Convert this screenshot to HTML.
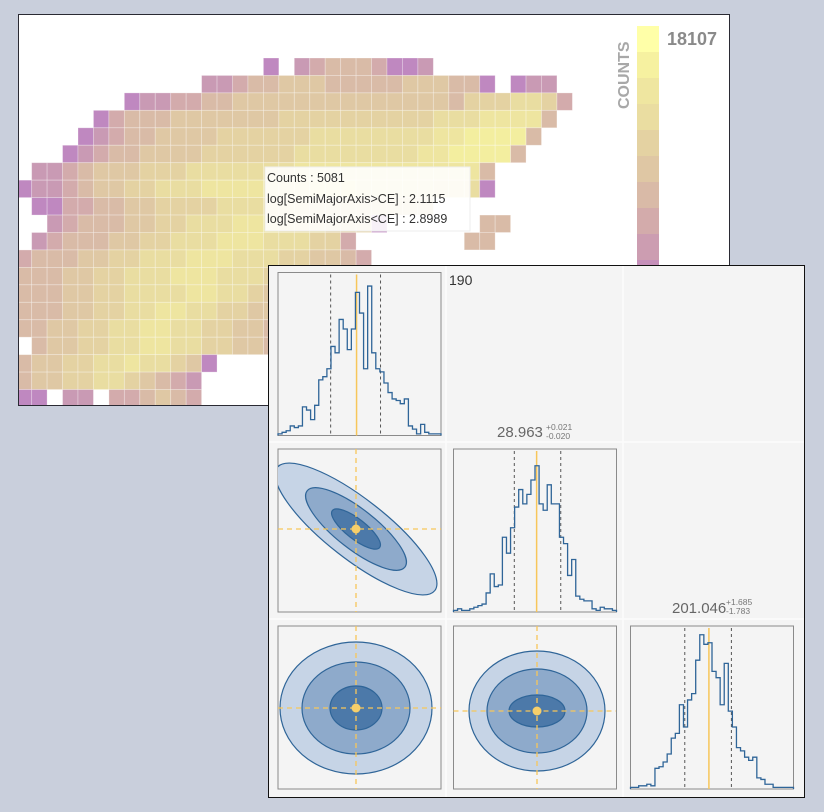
<!DOCTYPE html>
<html><head><meta charset="utf-8">
<style>
html,body{margin:0;padding:0;background:#c9cfdc;}
body{width:824px;height:812px;position:relative;overflow:hidden;font-family:"Liberation Sans",sans-serif;}
svg{position:absolute;left:0;top:0;}
</style></head>
<body>
<svg id="root" width="824" height="812" viewBox="0 0 824 812" xmlns="http://www.w3.org/2000/svg">
  <defs>
    <clipPath id="hmclip"><rect x="19" y="15" width="710" height="390"/></clipPath>
    <clipPath id="p21"><rect x="278" y="449" width="163" height="163"/></clipPath>
    <clipPath id="p31"><rect x="278" y="626" width="163" height="163"/></clipPath>
    <clipPath id="p32"><rect x="453" y="626" width="163" height="163"/></clipPath>
  </defs>
  <g>
    <rect x="18.5" y="14.5" width="711" height="391" fill="#ffffff" stroke="#2a2a33" stroke-width="1"/>
    <g id="cells" clip-path="url(#hmclip)"></g>
    <g id="cbar"></g>
    <text x="667" y="45" font-size="18" font-weight="bold" fill="#8a8a8a">18107</text>
    <text transform="translate(629,109) rotate(-90)" font-size="16" font-weight="bold" fill="#a8a8a8">COUNTS</text>
    <g>
      <rect x="265" y="167" width="205" height="64" fill="#ffffff" fill-opacity="0.88" stroke="#eeeeee"/>
      <text x="267" y="182" font-size="12.5" fill="#333">Counts : 5081</text>
      <text x="267" y="203" font-size="12.5" fill="#333">log[SemiMajorAxis&gt;CE] : 2.1115</text>
      <text x="267" y="223" font-size="12.5" fill="#333">log[SemiMajorAxis&lt;CE] : 2.8989</text>
    </g>
  </g>
  <g>
    <rect x="268.5" y="265.5" width="536" height="532" fill="#f4f4f4" stroke="#111" stroke-width="1"/>
    <line x1="446" y1="266" x2="446" y2="797" stroke="#fbfbfb" stroke-width="1.5"/>
    <line x1="623" y1="266" x2="623" y2="797" stroke="#fbfbfb" stroke-width="1.5"/>
    <line x1="269" y1="442" x2="804" y2="442" stroke="#fbfbfb" stroke-width="1.5"/>
    <line x1="269" y1="619" x2="804" y2="619" stroke="#fbfbfb" stroke-width="1.5"/>
    <g id="contours"></g>
    <g id="hists"></g>
    <text x="449" y="285" font-size="14" fill="#333">190</text>
    <text x="497" y="437" font-size="15" fill="#666">28.963</text>
    <text x="546" y="430" font-size="8.5" fill="#777">+0.021</text>
    <text x="546" y="439" font-size="8.5" fill="#777">-0.020</text>
    <text x="672" y="613" font-size="15" fill="#666">201.046</text>
    <text x="726" y="605" font-size="8.5" fill="#777">+1.685</text>
    <text x="726" y="614" font-size="8.5" fill="#777">-1.783</text>
  </g>
</svg>
<script>
// ---------- heatmap data ----------
const hmRows = [
"................0.123332001",
"............1123344433333444330.011",
".......01122334444444444444435556652",
".....023334444444555555555566677773",
"....012334444555555666666667788883",
"...012334444555555666666667788883",
".112344455566666667777777777773",
"0112344556667777777888777776660",
".00223344555566666655555555",
"..1233344556667776665550......33",
".123334455666777666552.......33",
"23334455666777666554432",
"3334455666777666554432210",
"33344556666776654433221100",
"3334455667766554433221100",
"334455667766554432210",
".34455667766554432100",
"3445566766540",
"344556654321",
"00.11.223432"
];
const palette = ["#bf88c0","#c99ab4","#d3abac","#d9bba7","#dfc8a4","#e4d2a2","#e9dda1","#eee5a0","#f3ee9f","#f8f5a2"];
const cbarColors = ["#ffffa8","#f6f1a0","#efe6a0","#eadda1","#e4d2a2","#dfc7a4","#d9baa7","#d3abab","#cc9db1","#c58fb9"];
const cellW = 15.45, cellH = 17.45, x0 = 16.2, y0 = 58;
function hx(c){return x0 + c*cellW;}
function hy(r){return y0 + r*cellH;}
const NS = "http://www.w3.org/2000/svg";
const cellsG = document.getElementById('cells');
hmRows.forEach((row, r) => {
  for (let c = 0; c < row.length; c++) {
    const ch = row[c];
    if (ch === '.') continue;
    const rect = document.createElementNS(NS, 'rect');
    rect.setAttribute('x', hx(c)); rect.setAttribute('y', hy(r));
    rect.setAttribute('width', cellW); rect.setAttribute('height', cellH);
    rect.setAttribute('fill', palette[+ch]);
    rect.setAttribute('stroke', '#ffffff'); rect.setAttribute('stroke-opacity', '0.35'); rect.setAttribute('stroke-width', '0.8');
    
    
    cellsG.appendChild(rect);
  }
});
const cbarG = document.getElementById('cbar');
cbarColors.forEach((col, i) => {
  const rect = document.createElementNS(NS, 'rect');
  rect.setAttribute('x', 637); rect.setAttribute('y', 26 + i*26);
  rect.setAttribute('width', 22); rect.setAttribute('height', 26);
  rect.setAttribute('fill', col);
  
  
  cbarG.appendChild(rect);
});

// ---------- histogram data (relative heights, %) ----------
const hist1 = [1,2,3,6,5,6,18,16,10,19,35,37,42,56,52,73,67,54,67,90,77,42,94,52,42,40,33,27,23,22,20,23,6,4,1,7,2,1,1,1];
const hist2 = [1,2,1,1,2,3,4,5,12,24,16,17,47,37,53,66,77,68,74,83,92,68,64,80,68,68,47,43,23,33,10,8,7,7,2,1,3,2,2,1];
const hist3 = [1,1,2,2,3,2,13,14,17,22,32,35,53,39,56,60,81,97,91,92,74,70,53,79,49,39,26,24,20,18,20,7,6,3,3,1,1,1,1,1];
const q1 = [0.323, 0.482, 0.629];
const q2 = [0.373, 0.510, 0.658];
const q3 = [0.333, 0.481, 0.619];
const panels = [
  {x:278, y:272.5, w:163, h:163, data:hist1, q:q1, name:'histogram-param1'},
  {x:453.5, y:449, w:163, h:163, data:hist2, q:q2, name:'histogram-param2'},
  {x:630.5, y:626, w:163, h:163, data:hist3, q:q3, name:'histogram-param3'}
];
const histsG = document.getElementById('hists');
panels.forEach(p => {
  const g = document.createElementNS(NS, 'g');
  
  
  const fr = document.createElementNS(NS, 'rect');
  fr.setAttribute('x', p.x); fr.setAttribute('y', p.y); fr.setAttribute('width', p.w); fr.setAttribute('height', p.h);
  fr.setAttribute('fill', '#f4f4f4'); fr.setAttribute('stroke', '#8a8a8a'); fr.setAttribute('stroke-width', '1');
  
  
  g.appendChild(fr);
  const n = p.data.length, bw = p.w / n;
  const sx = i => p.x + i*bw;
  const sy = v => p.y + p.h - (v/100)*(p.h-4);
  let d = 'M' + sx(0) + ',' + (p.y+p.h);
  p.data.forEach((v, i) => { d += ' L' + sx(i) + ',' + sy(v) + ' L' + sx(i+1) + ',' + sy(v); });
  d += ' L' + sx(n) + ',' + (p.y+p.h);
  p.q.forEach((q, k) => {
    const ln = document.createElementNS(NS, 'line');
    const xx = p.x + q*p.w;
    ln.setAttribute('x1', xx); ln.setAttribute('x2', xx); ln.setAttribute('y1', p.y+2); ln.setAttribute('y2', p.y+p.h);
    if (k === 1) { ln.setAttribute('stroke', '#f7c65a'); ln.setAttribute('stroke-width', '1.5'); }
    else { ln.setAttribute('stroke', '#555'); ln.setAttribute('stroke-width', '1'); ln.setAttribute('stroke-dasharray', '3,3'); }
    
    
    g.appendChild(ln);
  });
  const path = document.createElementNS(NS, 'path');
  path.setAttribute('d', d); path.setAttribute('fill', 'none');
  path.setAttribute('stroke', '#2f6598'); path.setAttribute('stroke-width', '1.3');
  
  
  g.appendChild(path);
  histsG.appendChild(g);
});

// ---------- contour panels ----------
const contourPanels = [
  {x:278, y:449, clip:'p21', cx:356, cy:529, rot:38, levels:[[100,30],[62,20],[30,10]], name:'contour-param1-param2'},
  {x:278, y:626, clip:'p31', cx:356, cy:708, rot:0, levels:[[76,66],[54,46],[26,22]], name:'contour-param1-param3'},
  {x:453.5, y:626, clip:'p32', cx:537, cy:711, rot:0, levels:[[68,60],[50,42],[28,16]], name:'contour-param2-param3'}
];
const fills = ['#c6d4e6','#8eaacb','#4c79a9'];
const cG = document.getElementById('contours');
contourPanels.forEach(p => {
  const g = document.createElementNS(NS, 'g');
  
  
  const fr = document.createElementNS(NS, 'rect');
  fr.setAttribute('x', p.x); fr.setAttribute('y', p.y); fr.setAttribute('width', 163); fr.setAttribute('height', 163);
  fr.setAttribute('fill', '#f4f4f4'); fr.setAttribute('stroke', '#8a8a8a');
  
  
  g.appendChild(fr);
  const inner = document.createElementNS(NS, 'g');
  inner.setAttribute('clip-path', 'url(#' + p.clip + ')');
  p.levels.forEach((l, i) => {
    const e = document.createElementNS(NS, 'ellipse');
    e.setAttribute('cx', p.cx); e.setAttribute('cy', p.cy); e.setAttribute('rx', l[0]); e.setAttribute('ry', l[1]);
    e.setAttribute('transform', 'rotate(' + p.rot + ' ' + p.cx + ' ' + p.cy + ')');
    e.setAttribute('fill', fills[i]); e.setAttribute('stroke', '#2f6598'); e.setAttribute('stroke-width', '1.2');
    
    
    inner.appendChild(e);
  });
  const h = document.createElementNS(NS, 'line');
  h.setAttribute('x1', p.x); h.setAttribute('x2', p.x+163); h.setAttribute('y1', p.cy); h.setAttribute('y2', p.cy);
  h.setAttribute('stroke', '#f7c65a'); h.setAttribute('stroke-width', '1.3'); h.setAttribute('stroke-dasharray', '5,4');
  
  
  inner.appendChild(h);
  const v = document.createElementNS(NS, 'line');
  v.setAttribute('x1', p.cx); v.setAttribute('x2', p.cx); v.setAttribute('y1', p.y); v.setAttribute('y2', p.y+163);
  v.setAttribute('stroke', '#f7c65a'); v.setAttribute('stroke-width', '1.3'); v.setAttribute('stroke-dasharray', '5,4');
  
  
  inner.appendChild(v);
  const dot = document.createElementNS(NS, 'circle');
  dot.setAttribute('cx', p.cx); dot.setAttribute('cy', p.cy); dot.setAttribute('r', 4.5);
  dot.setAttribute('fill', '#f7cf6a');
  
  
  inner.appendChild(dot);
  g.appendChild(inner);
  cG.appendChild(g);
});
</script>
</body></html>
